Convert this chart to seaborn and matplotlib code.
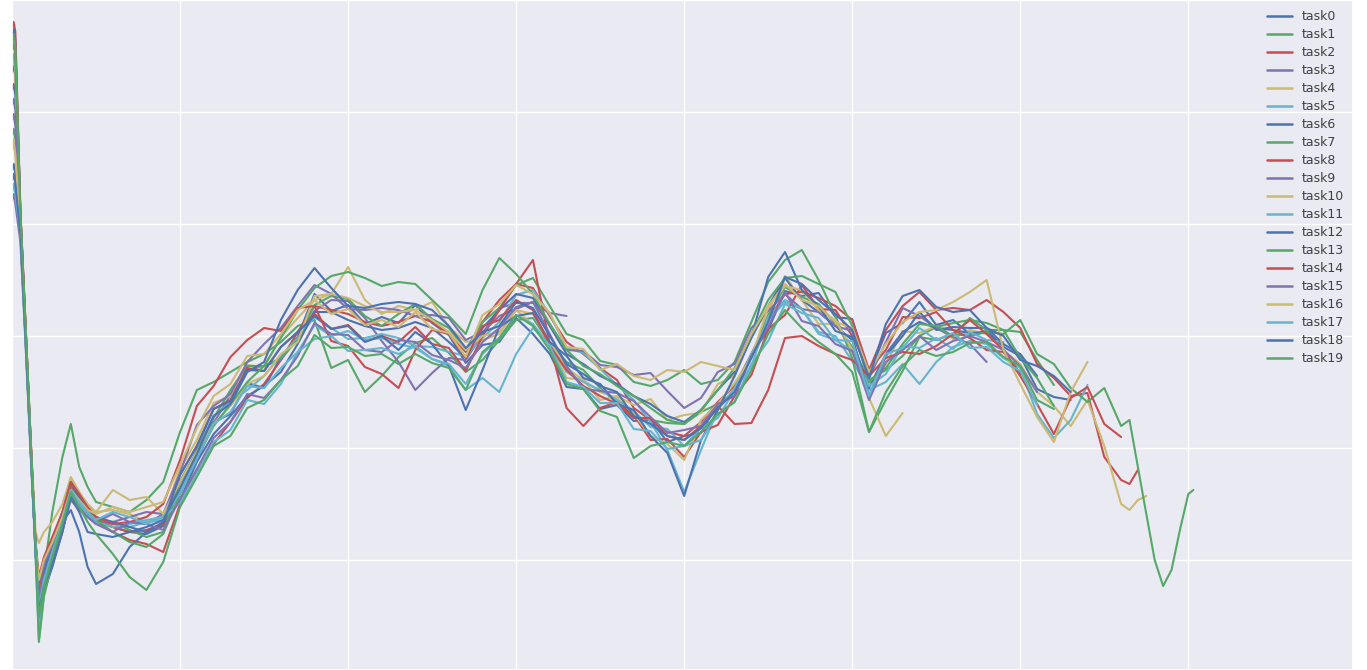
import pandas as pd
import seaborn as sns
import matplotlib.pyplot as plt
from matplotlib.ticker import MultipleLocator

sns.set_theme(style="darkgrid")

# shared episode grid (denser at the start and at the tail)
episodes = ([0, 1, 2, 5, 8, 11, 14, 16, 19, 24, 30, 35, 40, 45, 50]
            + list(range(60, 661, 10))
            + [665, 670, 675, 680, 685, 690, 695, 700, 703])

# smoothed score per task (one value per episode above)
task0 = [502, 508, 498, 440, 338, 228, 122, 55, 80, 105, 140, 178, 168, 158, 150,
         145, 140, 138, 146,
         182, 211, 250, 258, 289, 284, 315, 335,
         378, 361, 367, 348, 355, 349, 367, 349, 337, 309,
         327, 330, 354, 338, 318, 285, 283, 263, 267,
         251, 252, 230, 236, 239, 269, 276, 318, 342, 381,
         376, 379, 355, 353, 298, 339, 349, 370, 347, 352,
         338, 341, 325, 316, 283, 275, 272]
task1 = [537, 543, 532, 452, 345, 232, 125, 45, 100, 160, 215, 248, 205, 185, 170,
         165, 160, 172, 190,
         240, 282, 290, 300, 310, 318, 330, 346,
         352, 304, 312, 280, 296, 315, 329, 334, 319, 300,
         312, 332, 352, 354, 329, 310, 302, 284, 269,
         255, 252, 249, 248, 260, 268, 280, 316, 357, 385,
         375, 368, 348, 325, 292, 302, 316, 336, 345, 349,
         352, 349, 342, 340, 312, 287]
task2 = [644, 650, 640, 462, 350, 236, 128, 80, 105, 125, 150, 188, 172, 158, 150,
         140, 132, 128, 120,
         168, 200, 228, 250, 274, 288, 312, 340,
         366, 362, 358, 350, 346, 350, 356, 350, 338, 320,
         350, 372, 388, 384, 356, 330, 318, 304, 292,
         264, 252, 240, 236, 250, 270, 286, 318, 352, 378,
         380, 374, 366, 352, 302, 342, 366, 380, 362, 364,
         362, 372, 360, 344, 308, 294, 276, 279, 215, 192, 188, 202]
task3 = [567, 573, 562, 448, 340, 228, 125, 85, 100, 120, 148, 178, 168, 158, 150,
         158, 150, 148, 158,
         189, 219, 249, 277, 302, 306, 312, 334,
         361, 372, 371, 354, 331, 310, 282, 299, 314, 312,
         338, 364, 369, 369, 359, 356]
task4 = [527, 533, 522, 445, 338, 226, 125, 82, 108, 130, 158, 192, 180, 168, 160,
         162, 158, 150, 155,
         203, 232, 269, 276, 307, 305, 335, 354,
         372, 378, 405, 372, 358, 366, 362, 370, 345, 330,
         332, 338, 362, 347, 328, 294, 292, 272, 276,
         267, 273, 252, 257, 259, 288, 296, 338, 361, 396,
         372, 348, 348, 322, 288, 308, 341, 339, 346, 333,
         342, 338, 322, 308, 280, 266, 246, 272, 226, 168, 162, 172, 176]
task5 = [627, 633, 622, 455, 345, 232, 125, 50, 90, 118, 145, 178, 168, 155, 150,
         148, 145, 150, 152,
         179, 223, 256, 270, 282, 296, 316, 334,
         355, 344, 333, 334, 338, 334, 326, 325, 320, 316,
         334, 350, 377, 382, 358, 324, 319, 303, 287,
         272, 250, 222, 180, 222, 262, 284, 318, 352, 370,
         363, 340, 336, 311, 282, 290, 308, 288, 310, 325,
         331, 328, 314, 304, 258, 234, 252, 287]
task6 = [582, 588, 577, 452, 342, 230, 128, 70, 100, 128, 150, 162, 140, 105, 88,
         98, 125, 140, 148,
         172, 210, 238, 256, 276, 286, 300, 328,
         360, 360, 352, 346, 342, 344, 350, 344, 330, 314,
         344, 362, 378, 374, 346, 318, 308, 296, 288,
         276, 268, 256, 250, 262, 282, 300, 334, 366, 394,
         372, 360, 346, 332, 284, 318, 340, 350, 344, 342,
         339, 340, 326]
task7 = [482, 488, 478, 440, 335, 225, 122, 70, 92, 120, 152, 185, 170, 160, 152,
         150, 142, 135, 140,
         191, 221, 254, 282, 306, 306, 314, 332,
         367, 376, 373, 356, 346, 358, 368, 353, 344, 322,
         350, 364, 387, 394, 366, 338, 332, 311, 307,
         290, 286, 292, 302, 288, 292, 310, 350, 390, 412,
         422, 392, 356, 314, 240, 272, 301, 335, 332, 338,
         336, 340, 338, 352, 318, 308, 284, 270, 284, 246,
         252, 205, 158, 112, 86, 102, 142, 178, 182]
task8 = [600, 606, 595, 458, 345, 232, 128, 82, 110, 130, 158, 188, 175, 162, 152,
         145, 140, 142, 148,
         197, 226, 263, 272, 304, 301, 325, 340,
         358, 343, 347, 331, 336, 330, 345, 328, 324, 301,
         336, 362, 388, 412, 328, 264, 246, 264, 270,
         257, 232, 233, 215, 240, 247, 276, 297, 343, 357,
         387, 363, 362, 336, 302, 322, 355, 354, 360, 342,
         334, 322, 320, 296, 268, 238, 274, 285, 248, 235]
task9 = [472, 478, 468, 430, 330, 222, 120, 88, 108, 128, 155, 175, 165, 155, 148,
         150, 155, 160, 158,
         199, 247, 266, 278, 310, 328, 344, 366,
         387, 378, 363, 362, 364, 362, 356, 357, 354, 332,
         340, 356, 363, 370, 348, 322, 321, 307, 305,
         297, 299, 281, 264, 274, 300, 308, 344, 361, 378,
         363, 360, 346, 341, 294, 330, 364, 356, 344, 335,
         328, 310]
task10 = [607, 613, 602, 455, 345, 238, 140, 129, 140, 150, 168, 195, 180, 165, 160,
          182, 172, 175, 158,
          190, 220, 248, 266, 288, 296, 318, 330,
          376, 378, 374, 366, 360, 360, 362, 352, 340, 322,
          336, 340, 362, 358, 330, 304, 292, 280, 274,
          258, 236, 228, 212, 252, 268, 289, 314, 365, 386,
          382, 362, 352, 322, 274, 236, 259]
task11 = [612, 618, 607, 450, 340, 228, 118, 32, 78, 112, 145, 178, 168, 158, 150,
          145, 148, 152, 155,
          169, 199, 230, 242, 272, 268, 288, 320,
          347, 336, 341, 332, 334, 328, 324, 313, 306, 282,
          294, 280, 318, 344, 328, 300, 290, 282, 272,
          261, 245, 243, 226, 244, 254, 282, 306, 355, 372,
          363, 338, 332, 321, 286, 298, 326, 324, 334, 323,
          340, 332, 330]
task12 = [637, 643, 632, 458, 348, 235, 130, 90, 112, 132, 160, 190, 175, 162, 155,
          150, 145, 140, 150,
          197, 226, 263, 271, 302, 301, 325, 340,
          356, 343, 346, 330, 336, 322, 340, 328, 306, 262,
          302, 345, 356, 359, 330, 316, 294, 288, 268,
          262, 236, 219, 176, 232, 262, 296, 335, 395, 420,
          382, 366, 341, 335, 276, 316, 336, 360, 342, 345,
          344, 344, 328, 318, 296]
task13 = [622, 628, 617, 455, 345, 230, 120, 30, 75, 110, 148, 182, 170, 160, 152,
          140, 130, 125, 138,
          178, 214, 246, 268, 290, 306, 334, 362,
          384, 396, 400, 394, 386, 390, 388, 372, 356, 338,
          382, 414, 398, 378, 348, 322, 306, 298, 286,
          276, 264, 252, 248, 262, 282, 304, 338, 372, 394,
          396, 388, 380, 346, 290, 304, 328, 348, 346, 336,
          354, 342, 342, 314, 294, 266]
task14 = [632, 638, 628, 460, 350, 236, 130, 95, 115, 135, 160, 190, 178, 165, 155,
          148, 150, 155, 168,
          212, 266, 286, 315, 332, 344, 341, 364,
          366, 331, 326, 305, 298, 284, 322, 342, 338, 314,
          346, 352, 372, 362, 326, 302, 286, 276, 268,
          254, 254, 236, 232, 246, 266, 248, 249, 282, 334,
          336, 326, 318, 312, 296, 314, 320, 318, 326, 338,
          352, 338, 322, 298]
task15 = [552, 558, 546, 445, 340, 230, 125, 75, 95, 115, 142, 172, 162, 155, 148,
          140, 150, 148, 142,
          173, 203, 234, 250, 278, 274, 292, 316,
          349, 338, 337, 322, 320, 332, 330, 317, 312, 304,
          330, 344, 365, 370, 338, 306, 283, 281, 279,
          271, 255, 239, 242, 246, 268, 276, 316, 345, 380,
          351, 346, 328, 321, 272, 310, 322, 336, 322, 331,
          336, 330, 322, 306, 280]
task16 = [522, 528, 518, 442, 338, 228, 125, 92, 112, 130, 155, 182, 172, 162, 158,
          165, 160, 165, 170,
          207, 244, 276, 288, 316, 318, 338, 362,
          372, 358, 363, 347, 352, 345, 360, 343, 339, 315,
          357, 368, 387, 378, 359, 325, 323, 302, 308,
          296, 292, 302, 300, 310, 306, 302, 338, 366, 388,
          372, 366, 350, 344, 300, 328, 350, 360, 362, 370,
          380, 392, 322, 288, 255, 230, 280, 310]
task17 = [482, 488, 478, 438, 335, 225, 122, 65, 92, 120, 150, 182, 170, 160, 152,
          160, 155, 148, 155,
          179, 213, 248, 260, 286, 284, 304, 320,
          333, 336, 321, 322, 324, 318, 326, 313, 308, 288,
          318, 334, 357, 348, 326, 290, 285, 269, 269,
          243, 241, 223, 226, 232, 258, 270, 308, 331, 368,
          359, 354, 332, 331, 276, 318, 324, 344, 332, 339,
          324, 325, 310, 301, 267]
task18 = [492, 498, 488, 438, 336, 226, 122, 60, 85, 108, 140, 175, 160, 140, 138,
          135, 140, 145, 152,
          184, 218, 256, 268, 300, 310, 352, 382,
          404, 384, 366, 364, 368, 370, 368, 362, 346, 324,
          340, 346, 370, 364, 336, 308, 298, 286, 280,
          256, 248, 236, 232, 244, 264, 280, 314, 350, 395,
          388, 372, 358, 342, 294, 348, 376, 382, 365, 360,
          362, 344, 336, 312, 306, 296, 280]
task19 = [632, 638, 626, 458, 348, 235, 128, 55, 85, 115, 148, 180, 165, 150, 138,
          118, 95, 82, 110,
          165, 195, 226, 236, 264, 272, 292, 306,
          337, 324, 325, 316, 318, 308, 318, 309, 304, 282,
          320, 334, 357, 346, 322, 288, 283, 261, 255,
          214, 226, 230, 226, 240, 258, 270, 302, 338, 362,
          344, 330, 318, 300, 240, 280, 306, 322, 316, 320,
          329, 330, 315, 306, 272, 263]

tasks = [task0, task1, task2, task3, task4, task5, task6, task7, task8, task9,
         task10, task11, task12, task13, task14, task15, task16, task17, task18, task19]
names = ["task%d" % i for i in range(len(tasks))]

rows = []
for name, vals in zip(names, tasks):
    for ep, v in zip(episodes, vals):
        rows.append((name, ep, v))
df = pd.DataFrame(rows, columns=["task", "episode", "score"])

# old seaborn "deep" (6 colours), cycled over the 20 tasks
deep6 = ["#4C72B0", "#55A868", "#C44E52", "#8172B2", "#CCB974", "#64B5CD"]
palette = {n: deep6[i % 6] for i, n in enumerate(names)}

fig = plt.figure(figsize=(13.67, 6.70), dpi=100)
ax = fig.add_axes([12 / 1367, 0, 1341 / 1367, 1])

sns.lineplot(data=df, x="episode", y="score", hue="task", hue_order=names,
             palette=palette, estimator=None, sort=False, linewidth=1.5, ax=ax)

ax.set_xlim(0, 798)
ax.set_ylim(2, 672)
ax.xaxis.set_major_locator(MultipleLocator(100))
ax.yaxis.set_major_locator(MultipleLocator(112))
ax.tick_params(labelbottom=False, labelleft=False, length=0)
ax.set_xlabel("")
ax.set_ylabel("")

handles, labels = ax.get_legend_handles_labels()
leg = ax.legend(handles, labels, loc="upper right", bbox_to_anchor=(0.997, 0.992),
                frameon=False, fontsize=9, labelspacing=0.4, handlelength=2.0,
                borderaxespad=0)
for t in leg.get_texts():
    t.set_color(".25")
for line in leg.get_lines():
    line.set_linewidth(1.8)

fig.savefig("out.png", dpi=100)
